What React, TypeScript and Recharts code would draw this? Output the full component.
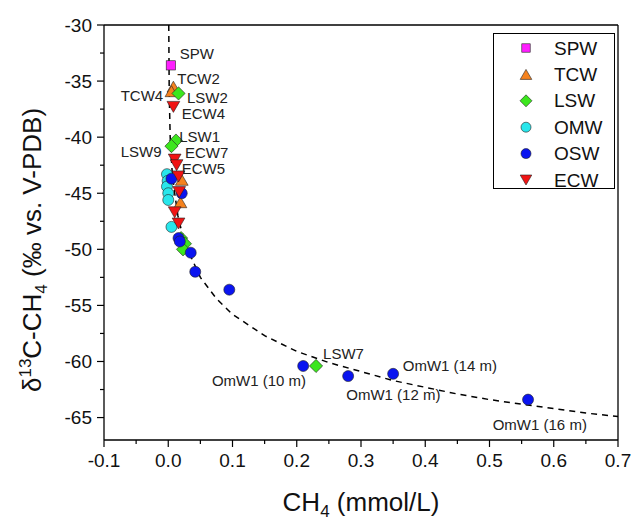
import {
  Label,
  Legend,
  ReferenceDot,
  ReferenceLine,
  Scatter,
  ScatterChart,
  XAxis,
  YAxis,
} from "recharts";

type Pt = { x: number; y: number };
type Kind = "square" | "triangle" | "diamond" | "circle" | "triangleDown";

const FONT = "'Liberation Sans', Arial, sans-serif";

const spw: Pt[] = [{ x: 0.004, y: -33.6 }];

const tcw: Pt[] = [
  { x: 0.008, y: -35.5 },
  { x: 0.005, y: -35.9 },
  { x: 0.021, y: -43.8 },
  { x: 0.019, y: -45.8 },
];

const lsw: Pt[] = [
  { x: 0.016, y: -36.1 },
  { x: 0.012, y: -40.3 },
  { x: 0.005, y: -40.8 },
  { x: 0.02, y: -49.0 },
  { x: 0.026, y: -49.5 },
  { x: 0.023, y: -50.0 },
  { x: 0.23, y: -60.4 },
];

const omw: Pt[] = [
  { x: -0.002, y: -43.3 },
  { x: -0.001, y: -43.9 },
  { x: -0.002, y: -44.4 },
  { x: 0.0, y: -45.0 },
  { x: 0.0, y: -45.6 },
  { x: 0.005, y: -48.0 },
];

const osw: Pt[] = [
  { x: 0.005, y: -43.7 },
  { x: 0.021, y: -45.0 },
  { x: 0.016, y: -49.0 },
  { x: 0.018, y: -49.3 },
  { x: 0.035, y: -50.3 },
  { x: 0.042, y: -52.0 },
  { x: 0.095, y: -53.6 },
  { x: 0.21, y: -60.4 },
  { x: 0.28, y: -61.3 },
  { x: 0.35, y: -61.1 },
  { x: 0.56, y: -63.4 },
];

const ecw: Pt[] = [
  { x: 0.008, y: -37.3 },
  { x: 0.01, y: -42.0 },
  { x: 0.013, y: -42.5 },
  { x: 0.016, y: -43.5 },
  { x: 0.017, y: -44.9 },
  { x: 0.01, y: -46.7 },
  { x: 0.016, y: -47.7 },
];

// dashed trend curve
const trend: Pt[] = [
  { x: 0.0008, y: -30 },
  { x: 0.0015, y: -36 },
  { x: 0.003, y: -40 },
  { x: 0.006, y: -43 },
  { x: 0.01, y: -45 },
  { x: 0.015, y: -47 },
  { x: 0.02, y: -48.2 },
  { x: 0.03, y: -50 },
  { x: 0.05, y: -52.5 },
  { x: 0.075, y: -54.4 },
  { x: 0.1, y: -55.8 },
  { x: 0.15, y: -57.7 },
  { x: 0.2, y: -59.1 },
  { x: 0.25, y: -60.1 },
  { x: 0.3, y: -60.9 },
  { x: 0.35, y: -61.7 },
  { x: 0.4, y: -62.3 },
  { x: 0.45, y: -62.9 },
  { x: 0.5, y: -63.4 },
  { x: 0.55, y: -63.8 },
  { x: 0.6, y: -64.2 },
  { x: 0.65, y: -64.6 },
  { x: 0.7, y: -64.9 },
];

const notes: { text: string; x: number; y: number }[] = [
  { text: "SPW", x: 0.018, y: -32.5 },
  { text: "TCW2", x: 0.014, y: -34.8 },
  { text: "TCW4", x: -0.074, y: -36.3 },
  { text: "LSW2", x: 0.029, y: -36.5 },
  { text: "ECW4", x: 0.021, y: -37.9 },
  { text: "LSW1", x: 0.017, y: -39.9 },
  { text: "LSW9", x: -0.074, y: -41.3 },
  { text: "ECW7", x: 0.026, y: -41.4 },
  { text: "ECW5", x: 0.021, y: -42.8 },
  { text: "LSW7", x: 0.241, y: -59.3 },
  { text: "OmW1 (10 m)", x: 0.068, y: -61.7 },
  { text: "OmW1 (12 m)", x: 0.277, y: -62.9 },
  { text: "OmW1 (14 m)", x: 0.365, y: -60.4 },
  { text: "OmW1 (16 m)", x: 0.505, y: -65.6 },
];

const xMajor = [-0.1, 0, 0.1, 0.2, 0.3, 0.4, 0.5, 0.6, 0.7];
const xMinor = [-0.05, 0.05, 0.15, 0.25, 0.35, 0.45, 0.55, 0.65];
const yMajor = [-30, -35, -40, -45, -50, -55, -60, -65];
const yMinor = [-32.5, -37.5, -42.5, -47.5, -52.5, -57.5, -62.5];

const series: { name: string; data: Pt[]; kind: Kind; fill: string }[] = [
  { name: "SPW", data: spw, kind: "square", fill: "#FF1EFF" },
  { name: "TCW", data: tcw, kind: "triangle", fill: "#F5821E" },
  { name: "LSW", data: lsw, kind: "diamond", fill: "#3CE61E" },
  { name: "OMW", data: omw, kind: "circle", fill: "#28E6EB" },
  { name: "OSW", data: osw, kind: "circle", fill: "#0A14F0" },
  { name: "ECW", data: ecw, kind: "triangleDown", fill: "#F01414" },
];

function Marker({ kind, cx, cy, fill, s }: { kind: Kind; cx: number; cy: number; fill: string; s: number }) {
  const stroke = "#222";
  const sw = 0.6;
  if (kind === "square") {
    return <rect x={cx - s * 0.42} y={cy - s * 0.42} width={s * 0.84} height={s * 0.84} fill={fill} stroke={stroke} strokeWidth={sw} />;
  }
  if (kind === "circle") {
    return <circle cx={cx} cy={cy} r={s * 0.5} fill={fill} stroke={stroke} strokeWidth={sw} />;
  }
  if (kind === "diamond") {
    const h = s * 0.6;
    return <polygon points={`${cx},${cy - h} ${cx + h},${cy} ${cx},${cy + h} ${cx - h},${cy}`} fill={fill} stroke={stroke} strokeWidth={sw} />;
  }
  const w = s * 0.58;
  const h = s * 0.5;
  if (kind === "triangle") {
    return <polygon points={`${cx},${cy - h} ${cx + w},${cy + h} ${cx - w},${cy + h}`} fill={fill} stroke={stroke} strokeWidth={sw} />;
  }
  return <polygon points={`${cx - w},${cy - h} ${cx + w},${cy - h} ${cx},${cy + h}`} fill={fill} stroke={stroke} strokeWidth={sw} />;
}

function XTick(props: any) {
  const { x, y, payload } = props;
  const major = xMajor.some((v) => Math.abs(v - payload.value) < 1e-9);
  return (
    <g>
      <line x1={x} x2={x} y1={y} y2={y + (major ? 7 : 4)} stroke="#000" strokeWidth={1.2} />
      {major && (
        <text x={x} y={y + 27} textAnchor="middle" fontSize={19} fontFamily={FONT} fill="#111">
          {payload.value.toFixed(1)}
        </text>
      )}
    </g>
  );
}

function YTick(props: any) {
  const { x, y, payload } = props;
  const major = yMajor.some((v) => Math.abs(v - payload.value) < 1e-9);
  return (
    <g>
      <line x1={x} x2={x - (major ? 7 : 4)} y1={y} y2={y} stroke="#000" strokeWidth={1.2} />
      {major && (
        <text x={x - 12} y={y} textAnchor="end" dominantBaseline="central" fontSize={19} fontFamily={FONT} fill="#111">
          {payload.value}
        </text>
      )}
    </g>
  );
}

function LegendBox() {
  return (
    <svg width={122} height={156} style={{ display: "block", overflow: "visible" }}>
      <rect x={0.5} y={0.5} width={121} height={155} fill="#fff" stroke="#000" strokeWidth={1} />
      {series.map((s, i) => (
        <g key={s.name}>
          <Marker kind={s.kind} cx={33} cy={15 + i * 26.4} fill={s.fill} s={10} />
          <text x={61} y={15 + i * 26.4} dominantBaseline="central" fontSize={19} fontFamily={FONT} fill="#111">
            {s.name}
          </text>
        </g>
      ))}
    </svg>
  );
}

export default function App() {
  return (
    <div style={{ position: "absolute", left: 0, top: 0, background: "#fff" }}>
      <ScatterChart width={633} height={518} margin={{ top: 25, right: 15, left: 0, bottom: 0 }}>
        <XAxis
          type="number"
          dataKey="x"
          domain={[-0.1, 0.7]}
          ticks={[...xMajor, ...xMinor]}
          interval={0}
          allowDataOverflow
          height={78}
          tickSize={0}
          tickMargin={0}
          tickLine={false}
          tick={<XTick />}
          axisLine={{ stroke: "#000", strokeWidth: 1.3 }}
        >
          <Label
            content={() => (
              <text x={361} y={511} textAnchor="middle" fontSize={26} fontFamily={FONT} fill="#111">
                CH
                <tspan fontSize={17} dy={6}>4</tspan>
                <tspan dy={-6}> (mmol/L)</tspan>
              </text>
            )}
          />
        </XAxis>
        <YAxis
          type="number"
          dataKey="y"
          domain={[-67, -30]}
          ticks={[...yMajor, ...yMinor]}
          interval={0}
          allowDataOverflow
          width={104}
          tickSize={0}
          tickMargin={0}
          tickLine={false}
          tick={<YTick />}
          axisLine={{ stroke: "#000", strokeWidth: 1.3 }}
        >
          <Label
            content={() => (
              <text
                x={0}
                y={0}
                transform="translate(41,250) rotate(-90)"
                textAnchor="middle"
                fontSize={26}
                fontFamily={FONT}
                fill="#111"
              >
                δ
                <tspan fontSize={17} dy={-10}>13</tspan>
                <tspan dy={10}>C-CH</tspan>
                <tspan fontSize={17} dy={6}>4</tspan>
                <tspan dy={-6}> (‰ vs. V-PDB)</tspan>
              </text>
            )}
          />
        </YAxis>
        <ReferenceLine y={-30} stroke="#000" strokeWidth={1.3} />
        <ReferenceLine x={0.7} stroke="#000" strokeWidth={1.3} />
        <Scatter
          data={trend}
          line={{ stroke: "#000", strokeWidth: 1.5, strokeDasharray: "6 5" }}
          lineType="joint"
          shape={() => <g />}
          isAnimationActive={false}
          legendType="none"
        />
        {series.map((s) => (
          <Scatter
            key={s.name}
            name={s.name}
            data={s.data}
            isAnimationActive={false}
            shape={(p: any) => <Marker kind={s.kind} cx={p.cx} cy={p.cy} fill={s.fill} s={11} />}
          />
        ))}
        {notes.map((n) => (
          <ReferenceDot
            key={n.text}
            x={n.x}
            y={n.y}
            r={1}
            fill="none"
            stroke="none"
            label={{
              content: (p: any) => {
                const vb = p.viewBox || {};
                return (
                  <text
                    x={vb.x + (vb.width || 0) / 2}
                    y={vb.y + (vb.height || 0) / 2}
                    dominantBaseline="central"
                    fontSize={15}
                    fontFamily={FONT}
                    fill="#222"
                  >
                    {n.text}
                  </text>
                );
              },
            }}
          />
        ))}
        <Legend
          layout="vertical"
          align="center"
          verticalAlign="middle"
          wrapperStyle={{ left: 493, top: 33, width: 122, height: 156 }}
          content={() => <LegendBox />}
        />
      </ScatterChart>
    </div>
  );
}
